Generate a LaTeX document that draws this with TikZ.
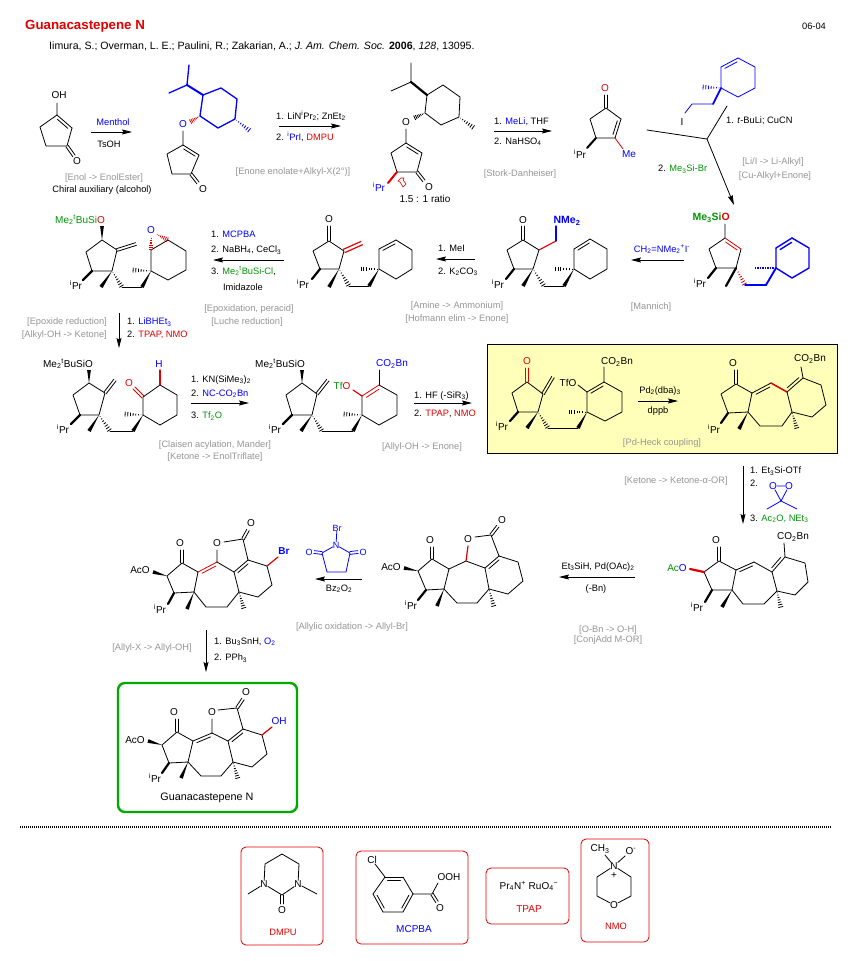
\documentclass[tikz,border=0pt]{standalone}
\usepackage{fontspec}
\setmainfont{Liberation Sans}
\usetikzlibrary{calc,arrows.meta}
\definecolor{mblue}{RGB}{0,0,255}
\definecolor{mred}{RGB}{225,0,0}
\definecolor{mgreen}{RGB}{0,150,0}
\definecolor{mgray}{RGB}{150,150,150}
\definecolor{myellow}{RGB}{255,255,185}
\newcommand{\lo}[1]{\textsubscript{#1}}
\newcommand{\hi}[1]{\textsuperscript{#1}}
\newcommand{\cb}[1]{\textcolor{mblue}{#1}}
\newcommand{\cred}[1]{\textcolor{mred}{#1}}
\newcommand{\cg}[1]{\textcolor{mgreen}{#1}}
% ring double bond: main line and a shorter one at distance #4
\newcommand{\dbl}[4][black]{
  \draw[bond,#1] #2 -- #3;
  \draw[bond,#1] ($#2!.14!#3!#4pt!90:#3$) -- ($#3!.14!#2!-#4pt!90:#2$);}
% free double bond
\newcommand{\cdb}[3][black]{
  \draw[bond,#1] ($#2!1.4pt!90:#3$) -- ($#3!-1.4pt!90:#2$);
  \draw[bond,#1] ($#2!-1.4pt!90:#3$) -- ($#3!1.4pt!90:#2$);}
\newcommand{\wdg}[3][black]{
  \fill[#1] #2 -- ($#3!1.9pt!90:#2$) -- ($#3!-1.9pt!90:#2$) -- cycle;}
\newcommand{\hsh}[3][black]{
  \foreach \t in {.1,.24,.38,.52,.66,.8,.94}
    \draw[#1,line width=.8pt] ($#2!\t!#3!{\t*2.6pt}!90:#2$) -- ($#2!\t!#3!{-\t*2.6pt}!90:#2$);}
\tikzset{
  bond/.style={line width=.8pt,line cap=round,line join=round},
  rxn/.style={line width=.8pt,-{Stealth[length=10pt,width=5pt,inset=1.5pt]}},
  atom/.style={inner sep=0pt,font=\fontsize{10}{12}\selectfont},
  txt/.style={inner sep=0pt,anchor=west,font=\fontsize{9.3}{11}\selectfont},
  mid/.style={inner sep=0pt,font=\fontsize{9.3}{11}\selectfont},
  note/.style={inner sep=0pt,text=mgray,font=\fontsize{9.3}{11}\selectfont},
  tag/.style={draw=mred,line width=.8pt,rounded corners=5pt,fill=white},
}
\begin{document}
\begin{tikzpicture}[x=1pt,y=-1pt]
\useasboundingbox (0,0) rectangle (854,961);
\fill[white] (0,0) rectangle (854,961);
%HEADER
\node[inner sep=0pt,anchor=west,text=mred,font=\fontsize{13.3}{15}\selectfont\bfseries] (ttl) at (25,26) {Guanacastepene N};
\node[txt,font=\fontsize{10.6}{12}\selectfont] (cit) at (49,46) {Iimura, S.; Overman, L. E.; Paulini, R.; Zakarian, A.; \textit{J. Am. Chem. Soc.} \textbf{2006}, \textit{128}, 13095.};
\node[mid] (dat) at (814,26) {06-04};
%CYCLOPENTENEDIONE
\node[atom] (m1oh) at (59,95) {OH};
\node[atom] (m1o) at (77,161) {O};
\draw[bond] (57,103) -- (57,115) (72,128) -- (67,146) -- (46,146) -- (40,127) -- (57,115);
\dbl{(57,115)}{(72,128)}{-3}
\cdb{(67,146)}{(74,156)}
\node[note] (n1) at (104,178) {[Enol -> EnolEster]};
\node[mid] (n1b) at (102,190) {Chiral auxiliary (alcohol)};
\draw[rxn] (91,132) coordinate (a1s) -- (132,132) coordinate (a1e);
\node[mid] (r1a) at (113,122) {\cb{Menthol}};
\node[mid] (r1b) at (109,144) {TsOH};
%MENTHOL ETHER
\node[atom,text=mblue] (m2o) at (183,124) {O};
\node[atom] (m2k) at (203,189) {O};
\draw[bond] (183,131) -- (183,145) (199,155) -- (191,174) -- (172,174) -- (167,154) -- (183,145);
\dbl{(183,145)}{(199,155)}{-3}
\cdb{(191,174)}{(198,183)}
\draw[bond,mblue,line width=1.3pt] (200,116) -- (203,95) -- (221,88) -- (237,99) -- (235,119) -- (218,128) -- cycle;
\draw[bond,mblue,line width=2pt] (203,95) -- (187,85);
\draw[bond,mblue,line width=1.3pt] (189,65) -- (187,85) -- (169,93);
\hsh[mred]{(200,116)}{(190,122)}
\hsh[mblue]{(235,119)}{(250,131)}
\draw[rxn] (279,126) coordinate (a2s) -- (341,126) coordinate (a2e);
\node[txt] (r2a) at (276,116) {1. LiN\hi{i}Pr\lo{2}; ZnEt\lo{2}};
\node[txt] (r2b) at (276,137) {2. \cb{\hi{i}PrI}, \cred{DMPU}};
\node[note] (n2) at (293,172) {[Enone enolate+Alkyl-X(2°)]};
%ALKYLATED ENONE
\node[atom] (m3o) at (406,122) {O};
\node[atom] (m3k) at (429,187) {O};
\node[atom,text=mblue] (m3p) at (379,187) {\hi{i}Pr};
\draw[bond] (406,129) -- (406,143) (422,153) -- (417,172) -- (397,172) -- (391,153) -- (406,143);
\dbl{(406,143)}{(422,153)}{-3}
\cdb{(417,172)}{(424,181)}
\draw[bond,mred,line width=2pt] (397,172) -- (388,183);
\draw[bond] (425,113) -- (427,95) -- (443,85) -- (460,97) -- (459,117) -- (441,125) -- cycle;
\draw[bond,line width=2.2pt] (411,82) -- (427,95);
\draw[bond] (411,63) -- (411,82) -- (391,91);
\hsh{(425,113)}{(414,118)}
\hsh{(459,117)}{(474,128)}
\draw[mred,line width=.6pt] (401,178) -- (398,181) -- (400,182) -- (403,187) -- (406,184) -- (403,180) -- (404,178) -- cycle;
\node[mid,font=\fontsize{10}{12}\selectfont] (n3b) at (425,199) {1.5 : 1 ratio};
\draw[rxn] (494,131) coordinate (a3s) -- (552,131) coordinate (a3e);
\node[txt] (r3a) at (494,122) {1. \cb{MeLi}, THF};
\node[txt] (r3b) at (494,142) {2. NaHSO\lo{4}};
\node[note] (n3) at (520,174) {[Stork-Danheiser]};
%METHYL ENONE
\node[atom,text=mred] (m4o) at (605,88) {O};
\node[atom,text=mblue] (m4me) at (629,154) {Me};
\node[atom] (m4p) at (580,154) {\hi{i}Pr};
\cdb{(606,95)}{(606,108)}
\draw[bond] (606,108) -- (621,119) (615,138) -- (596,138) -- (590,119) -- (606,108);
\dbl{(621,119)}{(615,138)}{-3}
\draw[bond,mred] (615,138) -- (623,149);
\draw[bond,line width=2pt] (596,138) -- (587,148);
%IODIDE
\draw[bond,mblue] (721,88) -- (721,67) (738,58) -- (755,67) -- (755,88) -- (738,97) -- (721,88);
\dbl[mblue]{(721,67)}{(738,58)}{-3}
\hsh[mblue]{(721,88)}{(702,87)}
\draw[bond,mblue,line width=1.8pt] (721,88) -- (713,104);
\draw[bond,mblue] (713,104) -- (692,104) -- (685,113);
\node[atom] (m4i) at (682,122) {I};
\draw[bond] (647,130) coordinate (a4a) -- (707,139) coordinate (a4m) (727,106) coordinate (a4b) -- (a4m);
\draw[rxn] (a4m) -- (734,205) coordinate (a4e);
\node[txt] (r4a) at (726,121) {1. \textit{t}-BuLi; CuCN};
\node[txt] (r4b) at (658,169) {2. \cg{Me\lo{3}Si-Br}};
\node[note] (n4a) at (773,162) {[Li/I -> Li-Alkyl]};
\node[note] (n4b) at (775,176) {[Cu-Alkyl+Enone]};
%SILYL ENOL ETHER
\node[atom,anchor=east,font=\fontsize{10.5}{12}\selectfont\bfseries] (m5o) at (730,218) {\cg{Me\lo{3}Si}\cred{O}};
\node[atom] (m5p) at (700,283) {\hi{i}Pr};
\draw[bond] (725,224) -- (725,238) (741,249) -- (736,268) -- (716,268) -- (709,249) -- (725,238);
\dbl[mred]{(725,238)}{(741,249)}{-3}
\draw[bond,line width=2.2pt] (716,268) -- (708,278);
\draw[bond,line width=2.2pt] (736,268) -- (726,286);
\hsh[mred]{(736,268)}{(745,285)}
\draw[bond,mblue,line width=1.9pt] (745,285) -- (766,285) -- (776,268);
\draw[bond,mblue,line width=1.4pt] (776,268) -- (776,248) (792,238) -- (809,248) -- (809,268) -- (792,278) -- (776,268);
\dbl[mblue,line width=1.4pt]{(776,248)}{(792,238)}{-3.5}
\draw[mblue,line width=2.2pt,dash pattern=on 1.5pt off 1pt] (776,268) -- (755,268);
\draw[rxn] (684,260) coordinate (a5s) -- (631,260) coordinate (a5e);
\node[mid] (r5a) at (662,249) {\cb{CH\lo{2}=NMe\lo{2}\hi{+}I\hi{-}}};
\node[note] (n5) at (651,307) {[Mannich]};
%AMINE
\node[atom] (m6o) at (523,220) {O};
\node[atom,text=mblue,font=\fontsize{10.5}{12}\selectfont\bfseries] (m6n) at (567,221) {NMe\lo{2}};
\node[atom] (m6p) at (498,284) {\hi{i}Pr};
\cdb{(523,226)}{(523,240)}
\draw[bond] (523,240) -- (539,250) -- (533,269) -- (514,269) -- (507,250) -- (523,240);
\draw[bond,mred,line width=1.1pt] (539,250) -- (556,241);
\draw[bond,mblue,line width=1.1pt] (556,241) -- (556,226);
\draw[bond,line width=2.2pt] (514,269) -- (506,279);
\wdg{(533,269)}{(523,286)}
\hsh{(533,269)}{(544,286)}
\draw[bond] (544,286) -- (564,286);
\wdg{(574,269)}{(564,286)}
\draw[bond] (574,269) -- (574,249) (590,239) -- (607,249) -- (607,269) -- (590,279) -- (574,269);
\dbl{(574,249)}{(590,239)}{-3}
\hsh{(574,269)}{(554,269)}
\draw[rxn] (475,259) coordinate (a6s) -- (436,259) coordinate (a6e);
\node[txt] (r6a) at (438,248) {1. MeI};
\node[txt] (r6b) at (438,272) {2. K\lo{2}CO\lo{3}};
\node[note] (n6a) at (457,306) {[Amine -> Ammonium]};
\node[note] (n6b) at (457,319) {[Hofmann elim -> Enone]};
%EXO ENONE
\node[atom] (m7o) at (329,219) {O};
\node[atom] (m7p) at (303,284) {\hi{i}Pr};
\cdb{(329,226)}{(329,241)}
\draw[bond] (329,241) -- (344,251) -- (339,269) -- (320,269) -- (313,251) -- (329,241);
\draw[mred,line width=1.2pt] ($(344,251)!1.8pt!90:(362,243)$) -- ($(362,243)!-1.8pt!90:(344,251)$);
\draw[mred,line width=1.2pt] ($(344,251)!-1.8pt!90:(362,243)$) -- ($(362,243)!1.8pt!90:(344,251)$);
\draw[bond,line width=2.2pt] (320,269) -- (312,279);
\wdg{(339,269)}{(329,287)}
\hsh{(339,269)}{(349,286)}
\draw[bond] (349,286) -- (369,286);
\wdg{(379,269)}{(369,286)}
\draw[bond] (379,269) -- (379,249) (396,240) -- (412,250) -- (412,269) -- (396,279) -- (379,269);
\dbl{(379,249)}{(396,240)}{-3}
\hsh{(379,269)}{(360,269)}
\draw[rxn] (284,260) coordinate (a7s) -- (213,260) coordinate (a7e);
\node[txt] (r7a) at (211,234) {1. \cb{MCPBA}};
\node[txt] (r7b) at (211,250) {2. NaBH\lo{4}, CeCl\lo{3}};
\node[txt] (r7c) at (211,271) {3. \cg{Me\lo{2}\hi{t}BuSi-Cl},};
\node[mid] (r7d) at (243,287) {Imidazole};
\node[note] (n7a) at (249,309) {[Epoxidation, peracid]};
\node[note] (n7b) at (247,322) {[Luche reduction]};
%EPOXIDE
\node[atom,anchor=east] (m8o) at (105,220) {\cg{Me\lo{2}\hi{t}BuSi}\cred{O}};
\node[atom] (m8p) at (76,285) {\hi{i}Pr};
\node[atom,text=mblue] (m8e) at (151,230) {O};
\draw[bond] (117,250) -- (112,271) -- (92,271) -- (86,252) -- (102,240) -- (117,250);
\wdg{(102,240)}{(102,226)}
\cdb{(117,250)}{(136,244)}
\draw[bond,line width=2.2pt] (92,271) -- (83,280);
\wdg{(112,271)}{(101,287)}
\hsh{(112,271)}{(122,287)}
\draw[bond] (122,287) -- (142,287);
\wdg{(151,271)}{(142,287)}
\draw[bond] (151,271) -- (151,250) -- (168,240) -- (186,251) -- (186,270) -- (168,280) -- cycle;
\hsh{(151,271)}{(132,270)}
\hsh[mred]{(151,237)}{(151,250)}
\hsh[mred]{(156,234)}{(168,240)}
\draw[rxn] (119,313) coordinate (a8s) -- (119,348) coordinate (a8e);
\node[txt] (r8a) at (127,322) {1. \cb{LiBHEt\lo{3}}};
\node[txt] (r8b) at (127,335) {2. \cred{TPAP, NMO}};
\node[note,anchor=east] (n8a) at (107,322) {[Epoxide reduction]};
\node[note,anchor=east] (n8b) at (107,335) {[Alkyl-OH -> Ketone]};
%KETONE
\node[atom,anchor=east] (m9o) at (93,364) {Me\lo{2}\hi{t}BuSiO};
\node[atom] (m9p) at (63,429) {\hi{i}Pr};
\node[atom,text=mred] (m9k) at (129,383) {O};
\node[atom,text=mblue] (m9h) at (159,364) {H};
\draw[bond] (105,393) -- (99,415) -- (80,415) -- (73,395) -- (89,383) -- (105,393);
\wdg{(89,383)}{(89,370)}
\cdb{(105,393)}{(115,380)}
\draw[bond,line width=2.2pt] (80,415) -- (71,424);
\wdg{(99,415)}{(89,431)}
\hsh{(99,415)}{(110,431)}
\draw[bond] (110,431) -- (133,431);
\wdg{(143,415)}{(133,431)}
\draw[bond] (143,415) -- (143,397) -- (160,385) -- (177,395) -- (177,415) -- (160,425) -- cycle;
\hsh{(143,415)}{(124,414)}
\cdb[mred]{(143,397)}{(134,388)}
\draw[bond,mred,line width=1.1pt] (160,385) -- (160,370);
\draw[rxn] (191,403) coordinate (a9s) -- (249,403) coordinate (a9e);
\node[txt] (r9a) at (191,380) {1. KN(SiMe\lo{3})\lo{2}};
\node[txt] (r9b) at (191,394) {2. \cb{NC-CO\lo{2}Bn}};
\node[txt] (r9c) at (191,416) {3. \cg{Tf\lo{2}O}};
\node[note] (n9a) at (215,445) {[Claisen acylation, Mander]};
\node[note] (n9b) at (215,457) {[Ketone -> EnolTriflate]};
%ENOL TRIFLATE
\node[atom,anchor=east] (m10o) at (305,364) {Me\lo{2}\hi{t}BuSiO};
\node[atom] (m10p) at (275,429) {\hi{i}Pr};
\node[atom] (m10t) at (342,386) {\cg{Tf}\cred{O}};
\node[atom,text=mblue] (m10c) at (392,364) {CO\lo{2}Bn};
\draw[bond] (317,394) -- (312,415) -- (292,415) -- (286,395) -- (302,383) -- (317,394);
\wdg{(302,383)}{(302,370)}
\cdb{(317,394)}{(328,380)}
\draw[bond,line width=2.2pt] (292,415) -- (283,424);
\wdg{(312,415)}{(301,431)}
\hsh{(312,415)}{(322,431)}
\draw[bond] (322,431) -- (353,431);
\wdg{(362,415)}{(353,431)}
\draw[bond] (362,415) -- (362,396) (379,385) -- (397,395) -- (397,415) -- (379,425) -- (362,415);
\dbl[mred]{(362,396)}{(379,385)}{-3.5}
\hsh{(362,415)}{(343,414)}
\draw[bond,mred,line width=1.2pt] (362,396) -- (353,390);
\draw[bond] (379,385) -- (379,370);
\draw[rxn] (414,403) coordinate (a10s) -- (472,403) coordinate (a10e);
\node[txt] (r10a) at (414,396) {1. HF (-SiR\lo{3})};
\node[txt] (r10b) at (414,414) {2. \cred{TPAP}, \cred{NMO}};
\node[note] (n10) at (422,447) {[Allyl-OH -> Enone]};
%HECK BOX
\draw[fill=myellow,line width=.9pt] (487,344) rectangle (837,453);
\node[atom,text=mred] (m11o) at (527,361) {O};
\node[atom] (m11c) at (617,362) {CO\lo{2}Bn};
\node[atom] (m11t) at (568,383) {TfO};
\node[atom] (m11p) at (502,426) {\hi{i}Pr};
\cdb[mred]{(527,368)}{(527,382)}
\draw[bond] (527,382) -- (543,394) -- (538,412) -- (518,412) -- (512,393) -- (527,382);
\cdb{(543,394)}{(553,377)}
\draw[bond,line width=2.2pt] (518,412) -- (510,421);
\wdg{(538,412)}{(527,428)}
\hsh{(538,412)}{(548,428)}
\draw[bond] (548,428) -- (578,428);
\wdg{(587,412)}{(578,428)}
\draw[bond] (587,412) -- (587,392) (604,382) -- (622,392) -- (622,412) -- (605,421) -- (587,412);
\dbl{(587,392)}{(604,382)}{-3}
\hsh{(587,412)}{(568,412)}
\draw[bond] (587,392) -- (578,385) (604,382) -- (604,367);
\draw[rxn] (638,401) coordinate (a11s) -- (678,401) coordinate (a11e);
\node[mid] (r11a) at (660,391) {Pd\lo{2}(dba)\lo{3}};
\node[mid] (r11b) at (658,411) {dppb};
\node[note] (n11) at (662,443) {[Pd-Heck coupling]};
\node[atom] (m12o) at (733,363) {O};
\node[atom] (m12c) at (810,359) {CO\lo{2}Bn};
\node[atom] (m12p) at (714,429) {\hi{i}Pr};
\cdb{(736,370)}{(736,384)}
\draw[bond] (736,384) -- (752,393) -- (748,412) -- (728,413) -- (721,394) -- (736,384);
\draw[bond,line width=2.2pt] (728,413) -- (721,423);
\wdg{(748,412)}{(739,429)}
\dbl{(752,393)}{(771,383)}{-3}
\draw[bond,mred,line width=1.5pt] (771,383) -- (787,392);
\draw[bond] (787,392) -- (792,412) -- (782,426) -- (760,426) -- (748,412);
\dbl{(787,392)}{(803,378)}{3}
\draw[bond] (803,378) -- (821,385) -- (826,405) -- (812,417) -- (792,412) (803,378) -- (801,367);
\hsh{(792,412)}{(797,429)}
\draw[rxn] (743,466) coordinate (a12s) -- (743,524) coordinate (a12e);
\node[txt] (r12a) at (750,471) {1. Et\lo{3}Si-OTf};
\node[txt] (r12b) at (750,483) {2.};
\node[atom,text=mblue] (dxa) at (773,486) {O};
\node[atom,text=mblue] (dxb) at (789,486) {O};
\draw[bond,mblue] (dxa) -- (dxb) (dxa) -- (781,501) -- (dxb) (767,509) -- (781,501) -- (797,509);
\node[txt] (r12c) at (750,519) {3. \cg{Ac\lo{2}O, NEt\lo{3}}};
\node[note] (n12) at (676,481) {[Ketone -> Ketone-α-OR]};
%ACETATE
\node[atom] (m13o) at (716,540) {O};
\node[atom] (m13c) at (793,537) {CO\lo{2}Bn};
\node[atom] (m13a) at (677,568) {\cg{Ac}\cb{O}};
\node[atom] (m13p) at (697,607) {\hi{i}Pr};
\cdb{(719,547)}{(719,561)}
\draw[bond] (719,561) -- (736,570) -- (732,590) -- (712,590) -- (704,572) -- (719,561);
\draw[bond,mred,line width=2.2pt] (704,572) -- (690,569);
\draw[bond,line width=2.2pt] (712,590) -- (705,602);
\wdg{(732,590)}{(722,607)}
\dbl{(736,570)}{(754,562)}{-3}
\draw[bond] (754,562) -- (772,572) -- (777,591) -- (764,604) -- (743,604) -- (732,590);
\dbl{(772,572)}{(785,557)}{3}
\draw[bond] (785,557) -- (805,563) -- (808,582) -- (795,595) -- (777,591) (785,557) -- (784,543);
\hsh{(777,591)}{(781,608)}
\draw[rxn] (635,577) coordinate (a13s) -- (559,577) coordinate (a13e);
\node[mid] (r13a) at (598,567) {Et\lo{3}SiH, Pd(OAc)\lo{2}};
\node[mid] (r13b) at (596,589) {(-Bn)};
\node[note] (n13a) at (608,630) {[O-Bn -> O-H]};
\node[note] (n13b) at (608,640) {[ConjAdd M-OR]};
%LACTONE
\node[atom] (m14o) at (430,540) {O};
\node[atom] (m14l) at (468,539) {O};
\node[atom] (m14k) at (502,520) {O};
\node[atom] (m14a) at (391,567) {AcO};
\node[atom] (m14p) at (411,605) {\hi{i}Pr};
\cdb{(432,547)}{(432,559)}
\draw[bond] (432,559) -- (449,569) -- (444,589) -- (426,590) -- (418,571) -- (432,559);
\wdg{(418,571)}{(404,568)}
\draw[bond,line width=2.2pt] (426,590) -- (418,600);
\wdg{(444,589)}{(437,606)}
\draw[bond] (449,569) -- (466,561) -- (485,568) -- (489,589) -- (477,603) -- (457,603) -- (444,589);
\draw[bond,mred,line width=1.2pt] (466,561) -- (468,546);
\draw[bond] (475,537) -- (491,535) -- (499,556);
\cdb{(491,535)}{(498,526)}
\dbl{(499,556)}{(485,568)}{3}
\draw[bond] (499,556) -- (518,562) -- (523,581) -- (508,594) -- (489,589);
\hsh{(489,589)}{(494,607)}
\draw[rxn] (362,579) coordinate (a14s) -- (315,579) coordinate (a14e);
\node[atom,text=mblue,font=\fontsize{9}{11}\selectfont] (nbsn) at (336,545) {N};
\node[atom,text=mblue,font=\fontsize{9}{11}\selectfont] (nbsb) at (337,528) {Br};
\node[atom,text=mblue,font=\fontsize{9}{11}\selectfont] (nbsa) at (309,552) {O};
\node[atom,text=mblue,font=\fontsize{9}{11}\selectfont] (nbsc) at (363,552) {O};
\draw[bond,mblue] (nbsn) -- (nbsb) (nbsn) -- (350,553) -- (346,572) -- (327,572) -- (322,553) -- (nbsn);
\cdb[mblue]{(350,553)}{(358,552)}
\cdb[mblue]{(322,553)}{(314,552)}
\node[mid] (r14) at (339,589) {Bz\lo{2}O\lo{2}};
\node[note] (n14) at (352,627) {[Allylic oxidation -> Allyl-Br]};
%BROMIDE
\node[atom] (m15o) at (180,543) {O};
\node[atom] (m15l) at (217,543) {O};
\node[atom] (m15k) at (251,523) {O};
\node[atom] (m15a) at (140,570) {AcO};
\node[atom] (m15p) at (160,609) {\hi{i}Pr};
\node[atom,text=mblue,font=\fontsize{10}{12}\selectfont\bfseries] (m15b) at (284,551) {Br};
\cdb{(182,550)}{(182,563)}
\draw[bond] (182,563) -- (198,572) -- (194,592) -- (174,593) -- (167,576) -- (182,563);
\wdg{(167,576)}{(153,572)}
\draw[bond,line width=2.2pt] (174,593) -- (168,604);
\wdg{(194,592)}{(187,609)}
\dbl[mred]{(198,572)}{(217,562)}{-3}
\draw[bond] (217,562) -- (234,572) -- (239,592) -- (227,607) -- (206,607) -- (194,592);
\draw[bond] (217,562) -- (217,550) (224,542) -- (243,539) -- (248,560);
\cdb{(243,539)}{(248,530)}
\dbl{(248,560)}{(234,572)}{3}
\draw[bond] (248,560) -- (267,566) -- (272,585) -- (258,597) -- (239,592);
\draw[bond,mred,line width=1.2pt] (267,566) -- (278,557);
\hsh{(239,592)}{(244,609)}
\draw[rxn] (206,630) coordinate (a15s) -- (206,672) coordinate (a15e);
\node[txt] (r15a) at (214,642) {1. Bu\lo{3}SnH, \cb{O\lo{2}}};
\node[txt] (r15b) at (214,658) {2. PPh\lo{3}};
\node[note] (n15) at (152,648) {[Allyl-X -> Allyl-OH]};
%TARGET
\draw[draw=mgreen!80!green,line width=2.4pt,rounded corners=7pt] (118,683) rectangle (297,812);
\node[atom] (m16o) at (174,712) {O};
\node[atom] (m16l) at (212,712) {O};
\node[atom] (m16k) at (246,692) {O};
\node[atom] (m16a) at (135,740) {AcO};
\node[atom] (m16p) at (155,778) {\hi{i}Pr};
\node[atom,text=mblue] (m16h) at (279,721) {OH};
\cdb{(177,719)}{(177,732)}
\draw[bond] (177,732) -- (193,741) -- (188,762) -- (169,763) -- (162,745) -- (177,732);
\wdg{(162,745)}{(148,741)}
\draw[bond,line width=2.2pt] (169,763) -- (162,773);
\wdg{(188,762)}{(181,778)}
\dbl{(193,741)}{(212,733)}{-3}
\draw[bond] (212,733) -- (228,741) -- (233,762) -- (221,776) -- (201,776) -- (188,762);
\draw[bond] (212,733) -- (212,719) (218,710) -- (237,708) -- (243,729);
\cdb{(237,708)}{(243,699)}
\dbl{(243,729)}{(228,741)}{3}
\draw[bond] (243,729) -- (262,735) -- (267,754) -- (252,767) -- (233,762);
\draw[bond,mred,line width=1.2pt] (262,735) -- (272,727);
\hsh{(233,762)}{(238,779)}
\node[mid,font=\fontsize{10.8}{12}\selectfont] (m16t) at (207,798) {Guanacastepene N};
%DIVIDER
\draw[line width=2.6pt,dash pattern=on 1pt off 1pt] (20,827) coordinate (dva) -- (832,827) coordinate (dvb);
%DMPU
\draw[tag] (241,847) rectangle (323,945);
\node[atom] (dmn1) at (264,884) {N};
\node[atom] (dmn2) at (298,884) {N};
\node[atom] (dmo) at (282,910) {O};
\draw[bond] (dmn1) -- (265,864) -- (282,854) -- (299,864) -- (dmn2) -- (282,895) -- (dmn1) (dmn1) -- (248,894) (dmn2) -- (317,894);
\cdb{(282,895)}{(282,904)}
\node[mid,text=mred] (dml) at (283,932) {DMPU};
%MCPBA
\draw[tag] (356,851) rectangle (468,944);
\node[atom] (mccl) at (372,860) {Cl};
\node[atom] (mcoo) at (449,877) {OOH};
\node[atom] (mco) at (440,908) {O};
\draw[bond] (mccl) -- (385,877) (373,894) -- (385,877) (403,912) -- (383,912) (413,894) -- (432,894) -- (438,883);
\dbl{(385,877)}{(403,877)}{-3}
\draw[bond] (403,877) -- (413,894);
\dbl{(413,894)}{(403,912)}{-3}
\dbl{(383,912)}{(373,894)}{-3}
\cdb{(432,894)}{(437,902)}
\node[mid,text=mblue,font=\fontsize{10}{12}\selectfont] (mcl) at (414,929) {MCPBA};
%TPAP
\draw[tag] (486,868) rectangle (569,924);
\node[mid,font=\fontsize{10}{12}\selectfont] (tpa) at (529,886) {Pr\lo{4}N\hi{+} RuO\lo{4}\hi{−}};
\node[mid,text=mred,font=\fontsize{10}{12}\selectfont] (tpl) at (529,909) {TPAP};
%NMO
\draw[tag] (581,839) rectangle (649,942);
\node[atom] (nmc) at (600,849) {CH\lo{3}};
\node[atom] (nmm) at (631,851) {O\hi{-}};
\node[atom] (nmn) at (614,866) {N};
\node[atom] (nmp) at (614,876) {+};
\node[atom] (nmo) at (614,905) {O};
\draw[bond] (nmn) -- (605,855) (nmn) -- (625,856) (nmn) -- (597,877) -- (597,896) -- (nmo) -- (631,896) -- (631,877) -- (nmn);
\node[mid,text=mred] (nml) at (616,926) {NMO};
\end{tikzpicture}
\end{document}
